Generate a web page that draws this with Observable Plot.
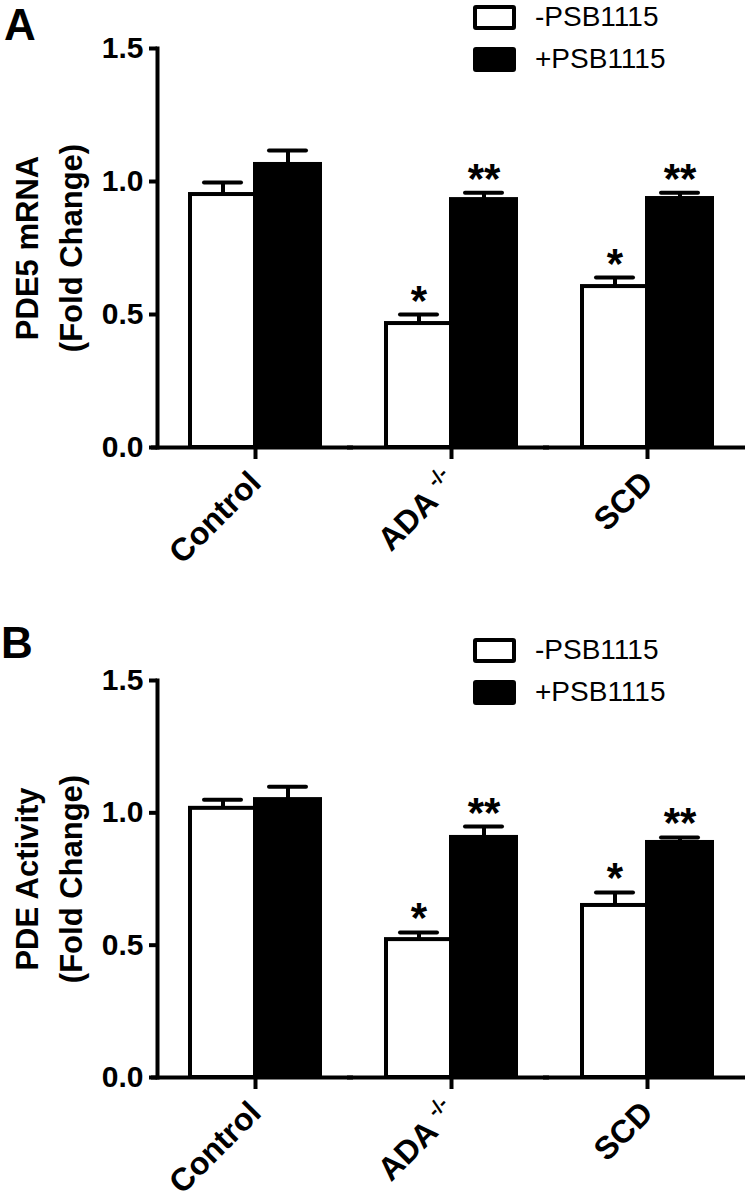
<!DOCTYPE html>
<html><head><meta charset="utf-8">
<script src="https://cdn.jsdelivr.net/npm/d3@7"></script>
<script src="https://cdn.jsdelivr.net/npm/@observablehq/plot@0.6"></script>
<style>
body{margin:0;background:#fff;}
#root{position:relative;width:750px;height:1204px;font-family:"Liberation Sans",Arial,sans-serif;color:#000;}
.panel{position:absolute;left:0;width:750px;height:602px;}
.panel svg{position:absolute;left:0;top:0;overflow:visible;}
.letter{position:absolute;font-weight:bold;font-size:44px;line-height:1;}
.legend{position:absolute;left:473px;}
.item{display:flex;align-items:center;height:42px;}
.sw{width:43px;height:25px;box-sizing:border-box;border:4px solid #000;border-radius:3px;margin-right:19px;}
.item span{font-size:28px;}
</style></head><body><div id="root"></div>
<script>
// ---- data ----
const categories = ["Control", "ADA-/-", "SCD"];
const treatments = ["-PSB1115", "+PSB1115"];
const treatmentColors = ["#ffffff", "#000000"];
const yTicks = [0, 0.5, 1.0, 1.5];

// Panel A: PDE5 mRNA
const mrnaMinus = [0.951, 0.466, 0.605];
const mrnaMinusErr = [0.045, 0.034, 0.034];
const mrnaPlus = [1.064, 0.932, 0.936];
const mrnaPlusErr = [0.053, 0.026, 0.022];
const mrnaMinusSig = ["", "*", "*"];
const mrnaPlusSig = ["", "**", "**"];

// Panel B: PDE Activity
const actMinus = [1.017, 0.521, 0.650];
const actMinusErr = [0.032, 0.027, 0.049];
const actPlus = [1.050, 0.907, 0.888];
const actPlusErr = [0.049, 0.041, 0.019];
const actMinusSig = ["", "*", "*"];
const actPlusSig = ["", "**", "**"];

const panels = [
  {letter: "A", yLabel: "PDE5 mRNA\n(Fold Change)", minus: mrnaMinus, minusErr: mrnaMinusErr, plus: mrnaPlus, plusErr: mrnaPlusErr, minusSig: mrnaMinusSig, plusSig: mrnaPlusSig},
  {letter: "B", yLabel: "PDE Activity\n(Fold Change)", minus: actMinus, minusErr: actMinusErr, plus: actPlus, plusErr: actPlusErr, minusSig: actMinusSig, plusSig: actPlusSig}
];

const layout = [
  {top: 0, mt: 48, mb: 155, legendTop: -4, letterTop: 3, letterLeft: 4},
  {top: 602, mt: 78, mb: 127, legendTop: 27, letterTop: 19, letterLeft: 1}
];

const font = '"Liberation Sans", Arial, Helvetica, sans-serif';

function rowsOf(p) {
  const rows = [];
  categories.forEach((c, i) => {
    rows.push({cat: c, trt: treatments[0], value: p.minus[i], err: p.minusErr[i], sig: p.minusSig[i]});
    rows.push({cat: c, trt: treatments[1], value: p.plus[i], err: p.plusErr[i], sig: p.plusSig[i]});
  });
  return rows;
}

function chart(p, L) {
  const rows = rowsOf(p);
  return Plot.plot({
    width: 750, height: 602,
    marginLeft: 157, marginRight: 5, marginTop: L.mt, marginBottom: L.mb,
    style: {fontFamily: font, color: "#000", background: "transparent", overflow: "visible"},
    fx: {domain: categories, padding: 0, label: null},
    x: {domain: treatments, paddingInner: 0, paddingOuter: 0.5, axis: null},
    y: {domain: [0, 1.5], label: null},
    color: {domain: treatments, range: treatmentColors},
    marks: [
      Plot.barY(rows, {fx: "cat", x: "trt", y: "value", fill: "trt", stroke: "#000", strokeWidth: 4}),
      Plot.ruleX(rows, {fx: "cat", x: "trt", y1: "value", y2: d => d.value + d.err, stroke: "#000", strokeWidth: 4}),
      Plot.tickY(rows, {fx: "cat", x: "trt", y: d => d.value + d.err, stroke: "#000", strokeWidth: 4, insetLeft: 14, insetRight: 14, strokeLinecap: "round"}),
      Plot.text(rows.filter(d => d.sig), {fx: "cat", x: "trt", y: d => d.value + d.err, text: "sig", dy: 0, lineAnchor: "bottom", fontSize: 42, fontWeight: "bold", fill: "#000"}),
      Plot.ruleY([0], {stroke: "#000", strokeWidth: 4, insetLeft: -6}),
      Plot.frame({anchor: "left", stroke: "#000", strokeWidth: 4, facetAnchor: "left"}),
      Plot.axisY({ticks: yTicks, tickFormat: d3.format(".1f"), tickSize: 8, tickPadding: 6, fontSize: 30, fontWeight: "bold", strokeWidth: 4, label: null}),
      Plot.text([p.yLabel], {frameAnchor: "left", textAnchor: "middle", rotate: -90, dx: -150, lineAnchor: "top", lineHeight: 1.4, fontSize: 31, fontWeight: "bold", fill: "#000", facetAnchor: "left"}),
      Plot.axisFx({anchor: "bottom", tickSize: 12, tickRotate: -45, tickPadding: 18, fontSize: 32, fontWeight: "bold", strokeWidth: 4, label: null})
    ]
  });
}

const root = document.getElementById("root");
const ns = "http://www.w3.org/2000/svg";
panels.forEach((p, k) => {
  const L = layout[k];
  const div = document.createElement("div");
  div.className = "panel";
  div.style.top = L.top + "px";
  const svg = chart(p, L);
  div.appendChild(svg);
  // superscript for ADA-/-
  svg.querySelectorAll("text").forEach(t => {
    if (t.textContent === "ADA-/-") {
      const tgt = t.querySelector("tspan") || t;
      tgt.textContent = "";
      const a = document.createElementNS(ns, "tspan");
      a.textContent = "ADA ";
      const s = document.createElementNS(ns, "tspan");
      s.textContent = "-/-";
      s.setAttribute("font-size", "20");
      s.setAttribute("dy", "-14");
      tgt.appendChild(a);
      tgt.appendChild(s);
    }
  });
  const letter = document.createElement("div");
  letter.className = "letter";
  letter.style.top = L.letterTop + "px";
  letter.style.left = L.letterLeft + "px";
  letter.textContent = p.letter;
  div.appendChild(letter);
  const leg = document.createElement("div");
  leg.className = "legend";
  leg.style.top = L.legendTop + "px";
  treatments.forEach((t, i) => {
    const it = document.createElement("div");
    it.className = "item";
    const sw = document.createElement("div");
    sw.className = "sw";
    sw.style.background = treatmentColors[i];
    const sp = document.createElement("span");
    sp.textContent = t;
    it.appendChild(sw); it.appendChild(sp);
    leg.appendChild(it);
  });
  div.appendChild(leg);
  root.appendChild(div);
});
</script></body></html>
